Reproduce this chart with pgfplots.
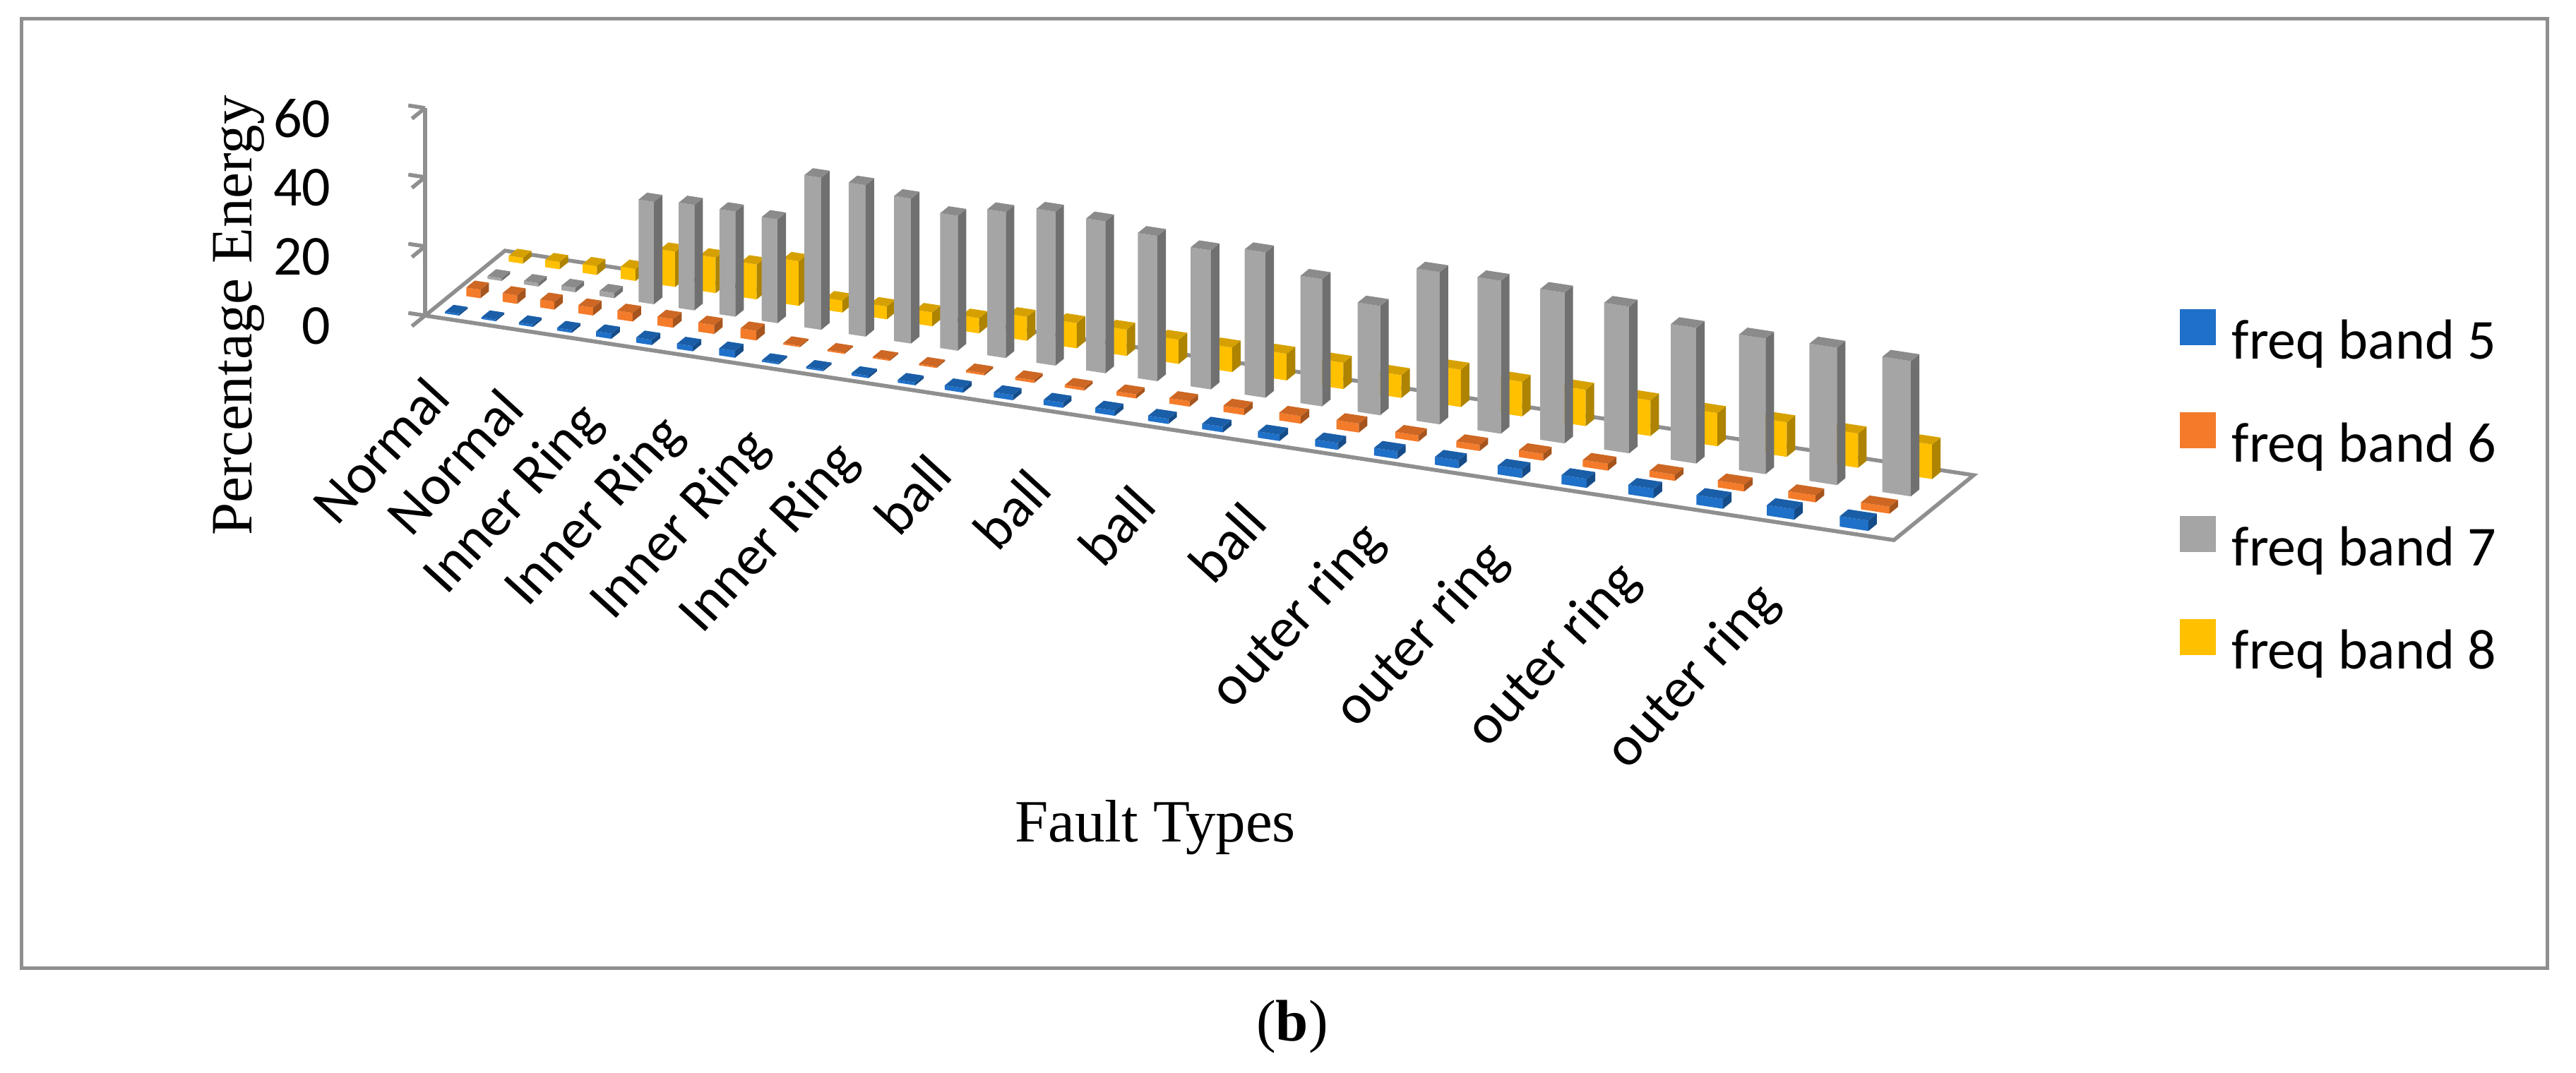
\documentclass[border=0pt]{standalone}
\usepackage{fontspec}
\setmainfont{Carlito}
\newfontfamily\timesf{Liberation Serif}
\usepackage{pgfplots}
\usepackage{pgfplotstable}
\pgfplotsset{compat=1.18}
\usetikzlibrary{calc}

\definecolor{cblue}{HTML}{1F70C8}
\definecolor{corange}{HTML}{F47B2A}
\definecolor{cgray}{HTML}{A5A5A5}
\definecolor{cyellow}{HTML}{FFC000}
\definecolor{edgegray}{HTML}{8F8F8F}

% percentage energy per fault-type sample (categories 1..28)
\pgfplotstableread{
cat b5 b6 b7 b8
1 0.5 2.5 0.8 1.7
2 0.5 2.5 1.0 2.1
3 0.7 2.3 1.3 2.6
4 0.8 2.3 1.5 3.5
5 1.5 2.5 29.6 10.2
6 1.5 2.5 30.5 10.3
7 1.5 2.6 30.4 10.1
8 2.0 2.8 30.0 12.9
9 0.5 0.4 44.0 3.5
10 0.5 0.4 43.8 3.7
11 0.7 0.4 41.9 4.0
12 0.8 0.4 39.0 4.4
13 1.3 0.6 42.2 6.9
14 1.5 0.8 44.5 7.3
15 1.5 0.8 43.9 7.6
16 1.5 1.2 42.0 7.0
17 1.5 1.6 40.2 7.1
18 1.6 1.8 42.0 7.7
19 1.8 2.2 36.8 7.6
20 2.0 2.6 31.6 6.6
21 2.2 1.8 44.0 10.8
22 2.3 1.8 44.2 10.0
23 2.5 2.0 43.6 10.5
24 2.6 2.0 42.4 10.3
25 2.7 1.8 39.2 9.6
26 2.8 2.0 39.2 10.0
27 3.0 2.0 39.7 9.9
28 3.0 2.0 39.1 10.0
}\energy

% one 3D bar: #1 category, #2 depth centre, #3 value, #4 colour
\newcommand\drawbar[4]{%
  \pgfmathsetmacro\xa{#1-0.19}%
  \pgfmathsetmacro\xb{#1+0.19}%
  \pgfmathsetmacro\ya{#2-0.2}%
  \pgfmathsetmacro\yb{#2+0.2}%
  \edef\hh{#3}%
  \edef\temp{%
    \noexpand\addplot3[fill=#4, draw=none, mark=none, forget plot] coordinates {(\xa,\ya,0) (\xb,\ya,0) (\xb,\ya,\hh) (\xa,\ya,\hh)};
    \noexpand\addplot3[fill=#4!68!black, draw=none, mark=none, forget plot] coordinates {(\xb,\ya,0) (\xb,\yb,0) (\xb,\yb,\hh) (\xb,\ya,\hh)};
    \noexpand\addplot3[fill=#4!84!black, draw=none, mark=none, forget plot] coordinates {(\xa,\ya,\hh) (\xb,\ya,\hh) (\xb,\yb,\hh) (\xa,\yb,\hh)};
  }\temp
}
\newcommand\drawseries[3]{% #1 column, #2 depth, #3 colour
  \pgfplotsinvokeforeach{0,...,27}{%
    \pgfplotstablegetelem{##1}{cat}\of\energy \let\cx\pgfplotsretval
    \pgfplotstablegetelem{##1}{#1}\of\energy \let\vv\pgfplotsretval
    \drawbar{\cx}{#2}{\vv}{#3}%
  }%
}

\begin{document}
\begin{tikzpicture}
\begin{axis}[
  x={(40.91pt,-6.255pt)}, y={(3.01pt,2.45pt)}, z={(0pt,0.49pt)},
  x coord trafo/.code={\pgfmathparse{1000/(90.3-#1)}},
  x coord inv trafo/.code={\pgfmathparse{90.3-1000/#1}},
  xmin=0.4, xmax=28.6, ymin=0, ymax=3.75, zmin=0, zmax=60,
  axis lines=left,
  axis line style={draw=edgegray, line width=0.55pt, -},
  clip=false,
  xtick={1,3,5,7,9,11,13,15,17,19,21,23,25,27},
  xticklabels={Normal,Normal,Inner Ring,Inner Ring,Inner Ring,Inner Ring,ball,ball,ball,ball,outer ring,outer ring,outer ring,outer ring},
  ytick=\empty,
  ztick={0,20,40,60},
  tick align=outside,
  major tick length=2.4pt,
  xtick style={draw=none},
  ztick style={draw=edgegray, line width=0.55pt},
  /pgf/number format/assume math mode=true,
  tick label style={font=\fontsize{8}{9.6}\selectfont, inner sep=0pt},
  xticklabel style={anchor=north east, xshift=-1.4pt, yshift=-6.0pt, rotate=47.6},
  zticklabel style={anchor=east, xshift=-11.3pt},
  legend style={at={(axis cs:32.15,0,79.4)}, anchor=north west, draw=none, fill=none,
    inner sep=0pt, outer sep=0pt, font=\fontsize{8}{9.6}\selectfont, row sep=5.9pt,
    nodes={inner sep=0pt, text height=6pt, text depth=1.7pt},
    /tikz/every odd column/.append style={column sep=2.3pt}},
  legend cell align=left,
]
% floor
\addplot3[fill=white, draw=edgegray, line width=0.55pt, mark=none, forget plot]
  coordinates {(0.4,0,0) (28.6,0,0) (28.6,3.75,0) (0.4,3.75,0) (0.4,0,0)};
% back row to front row
\drawseries{b8}{3.45}{cyellow}
\drawseries{b7}{2.45}{cgray}
\drawseries{b6}{1.45}{corange}
\drawseries{b5}{0.45}{cblue}

\addlegendimage{legend image code/.code={\fill[cblue] (0pt,0pt) rectangle (4.7pt,4.7pt);}}
\addlegendentry{freq band 5}
\addlegendimage{legend image code/.code={\fill[corange] (0pt,0pt) rectangle (4.7pt,4.7pt);}}
\addlegendentry{freq band 6}
\addlegendimage{legend image code/.code={\fill[cgray] (0pt,0pt) rectangle (4.7pt,4.7pt);}}
\addlegendentry{freq band 7}
\addlegendimage{legend image code/.code={\fill[cyellow] (0pt,0pt) rectangle (4.7pt,4.7pt);}}
\addlegendentry{freq band 8}

\coordinate (O) at (axis cs:0.4,0,0);
\end{axis}
\node[rotate=90, inner sep=0pt, font=\timesf\fontsize{8.3}{10}\selectfont] at ($(O)+(-26.4pt,0pt)$) {Percentage Energy};
\node[anchor=base, inner sep=0pt, font=\timesf\fontsize{8.5}{10}\selectfont] at ($(O)+(103.4pt,-74.6pt)$) {Fault Types};
\node[anchor=base, inner sep=0pt, font=\timesf\fontsize{8.3}{10}\selectfont] at ($(O)+(122.8pt,-102.8pt)$) {(\textbf{b})};
\draw[edgegray, line width=0.5pt] ($(O)+(-57.1pt,-92.5pt)$) rectangle ($(O)+(300.5pt,42.0pt)$);
\pgfresetboundingbox
\path[use as bounding box] ($(O)+(-60.2pt,-107.3pt)$) rectangle ($(O)+(304.6pt,44.7pt)$);
\end{tikzpicture}
\end{document}
